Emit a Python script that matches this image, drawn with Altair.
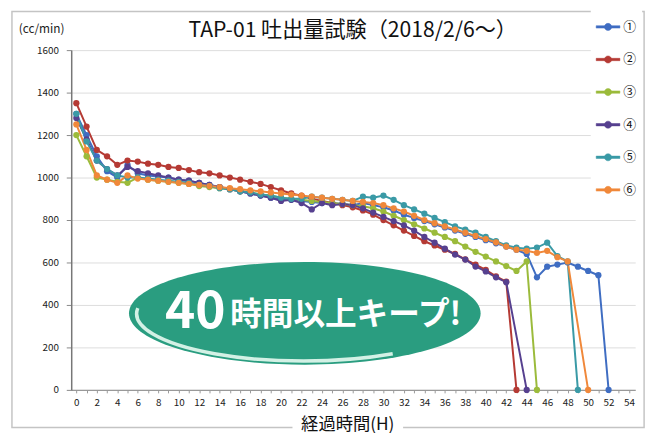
import altair as alt
import pandas as pd

# ---------------- data ----------------
hours = list(range(0, 53))
series_names = ["①", "②", "③", "④", "⑤", "⑥"]

s1 = [1300, 1200, 1100, 1030, 1000, 1060, 1020, 1010, 1005, 1000,
      990, 985, 975, 965, 955, 945, 935, 925, 915, 905,
      900, 895, 890, 885, 880, 880, 875, 870, 880, 870,
      860, 845, 825, 810, 795, 780, 765, 750, 735, 720,
      705, 690, 675, 660, 640, 530, 580, 590, 600, 580,
      560, 540, 0]
s2 = [1350, 1240, 1130, 1100, 1060, 1080, 1075, 1065, 1060, 1050,
      1045, 1035, 1025, 1020, 1010, 1000, 990, 980, 970, 955,
      940, 925, 915, 900, 890, 880, 870, 860, 845, 825,
      800, 775, 750, 725, 700, 680, 660, 640, 615, 590,
      565, 535, 510, 0]
s3 = [1200, 1100, 1000, 990, 980, 975, 1000, 990, 985, 980,
      975, 970, 960, 955, 950, 945, 935, 930, 920, 915,
      905, 900, 895, 890, 885, 880, 875, 870, 865, 855,
      840, 820, 800, 780, 760, 740, 720, 700, 675, 650,
      628, 605, 583, 560, 605, 0]
s4 = [1280, 1180, 1080, 1040, 1010, 1050, 1030, 1020, 1010, 1000,
      990, 985, 975, 965, 955, 945, 935, 925, 915, 905,
      890, 895, 880, 850, 880, 870, 875, 870, 855, 835,
      815, 795, 775, 750, 720, 693, 665, 637, 614, 581,
      558, 530, 507, None, 0]
s5 = [1300, 1170, 1080, 1040, 1010, 1000, 1000, 995, 990, 985,
      980, 975, 965, 960, 950, 945, 935, 930, 920, 915,
      905, 900, 900, 910, 905, 900, 895, 890, 910, 905,
      915, 895, 870, 850, 830, 810, 790, 770, 755, 740,
      720, 700, 680, 670, 665, 670, 693, 630, 605, 0]
s6 = [1250, 1130, 1010, 990, 975, 1010, 995, 990, 985, 980,
      975, 970, 965, 960, 955, 950, 945, 940, 935, 930,
      925, 920, 915, 910, 905, 900, 895, 890, 885, 880,
      870, 855, 840, 820, 800, 785, 770, 755, 740, 725,
      710, 695, 675, 660, 655, 645, 655, 625, 605, None,
      0]

colors = ["#3F6DC2", "#B53A34", "#9BBB3B", "#56408F", "#3A9AA6", "#F0883A"]

x_ticks = list(range(0, 55))
y_ticks = list(range(0, 1601, 200))

title_text = "TAP-01 吐出量試験（2018/2/6～）"
unit_text = "(cc/min)"
xtitle_text = "経過時間(H)"
callout_num = "40"
callout_text = "時間以上キープ!"

rows = []
for name, vals in zip(series_names, [s1, s2, s3, s4, s5, s6]):
    for h, v in zip(hours, vals):
        if v is not None:
            rows.append({"hour": h, "flow": v, "series": name})
df = pd.DataFrame(rows)

FONT = "Noto Sans CJK JP"
one = pd.DataFrame({"k": [0]})

xscale = alt.Scale(domain=[-0.5, 54.6], nice=False, zero=False)
yscale = alt.Scale(domain=[0, 1600], nice=False)

legend_path = ("M-1,-0.1L1,-0.1L1,0.1L-1,0.1Z "
               "M0.3,0A0.3,0.3 0 1,1 -0.3,0A0.3,0.3 0 1,1 0.3,0Z")

x_axis = alt.Axis(values=x_ticks, grid=False,
                  labelExpr="datum.value % 2 == 0 ? datum.label : ''",
                  labelOverlap=False,
                  labelFont=FONT, labelFontSize=10, labelColor="#222",
                  labelPadding=5, tickSize=3, tickColor="#999",
                  domainColor="#999", domainWidth=1.2, labelFlush=False)
y_axis = alt.Axis(values=y_ticks, grid=True, gridColor="#dcdcdc",
                  format="d", labelOverlap=False,
                  labelFont=FONT, labelFontSize=10, labelColor="#222",
                  labelPadding=8, tickSize=5, tickColor="#888",
                  domainColor="#777", domainWidth=1.5)

x_enc = alt.X("hour:Q", scale=xscale, title=None, axis=x_axis)
y_enc = alt.Y("flow:Q", scale=yscale, title=None, axis=y_axis)

legend = alt.Legend(title=None, orient="none",
                    legendX=526, legendY=-41, padding=5,
                    fillColor="white",
                    symbolType=legend_path, symbolSize=576,
                    symbolStrokeWidth=0.5, symbolOpacity=1,
                    rowPadding=13, labelOffset=3,
                    labelFont=FONT, labelFontSize=13,
                    labelColor="#111")
color_enc = alt.Color("series:N", scale=alt.Scale(domain=series_names, range=colors),
                      legend=legend)

lines = alt.Chart(df).mark_line(strokeWidth=2).encode(
    x=x_enc, y=y_enc, color=color_enc,
)

pts = alt.Chart(df).mark_point(filled=True, size=40, opacity=1).encode(
    x=x_enc, y=y_enc, color=color_enc,
)

# frame around the whole chart
frame = alt.Chart(one).mark_rect(fill=None, stroke="#c4c4c4", strokeWidth=1.5).encode(
    x=alt.value(-60), x2=alt.value(580), y=alt.value(-39), y2=alt.value(382))

xtitle_bg = alt.Chart(one).mark_rect(fill="white").encode(
    x=alt.value(224), x2=alt.value(336), y=alt.value(371), y2=alt.value(385))

title = alt.Chart(one).mark_text(text=title_text, font=FONT, fontSize=21.4,
                                 color="#111", align="center",
                                 baseline="alphabetic").encode(
    x=alt.value(285), y=alt.value(-13))

unit = alt.Chart(one).mark_text(text=unit_text, font=FONT, fontSize=12,
                                color="#222", align="center",
                                baseline="middle").encode(
    x=alt.value(-30), y=alt.value(-21))

xtitle = alt.Chart(one).mark_text(text=xtitle_text, font=FONT, fontSize=17.5,
                                  color="#111", align="center",
                                  baseline="middle").encode(
    x=alt.value(280), y=alt.value(380))

ellipse_path = "M-1,0A1,0.292 0 1,1 1,0A1,0.292 0 1,1 -1,0Z"
ellipse = alt.Chart(one).mark_point(shape=ellipse_path, size=356 * 356,
                                    filled=True, fill="#2A9D80", opacity=1,
                                    strokeWidth=0).encode(
    x=alt.value(236.5), y=alt.value(266.5))

shine_path = "M-0.95,-0.03A0.95,0.27 0 0,0 0.5,0.23"
shine = alt.Chart(one).mark_point(shape=shine_path, size=356 * 356,
                                  filled=False, stroke="#D3F1E5", opacity=1,
                                  strokeWidth=3.5).encode(
    x=alt.value(236.5), y=alt.value(266.5))

num = alt.Chart(one).mark_text(text=callout_num, font=FONT, fontSize=52,
                               fontWeight="bold", color="white", align="left",
                               baseline="alphabetic").encode(
    x=alt.value(95), y=alt.value(281))

jp = alt.Chart(one).mark_text(text=callout_text, font=FONT, fontSize=32,
                              fontWeight="bold", color="white", align="left",
                              baseline="alphabetic").encode(
    x=alt.value(161), y=alt.value(278))

chart = alt.layer(
    frame, lines, pts, ellipse, shine, num, jp, xtitle_bg, title, unit, xtitle
).properties(
    width=571, height=344,
    autosize=alt.AutoSizeParams(type="none"),
    padding={"left": 64, "top": 40, "right": 17, "bottom": 41},
).configure_view(strokeWidth=0)

chart.save("out.html", embed_options={"renderer": "svg", "actions": False})
